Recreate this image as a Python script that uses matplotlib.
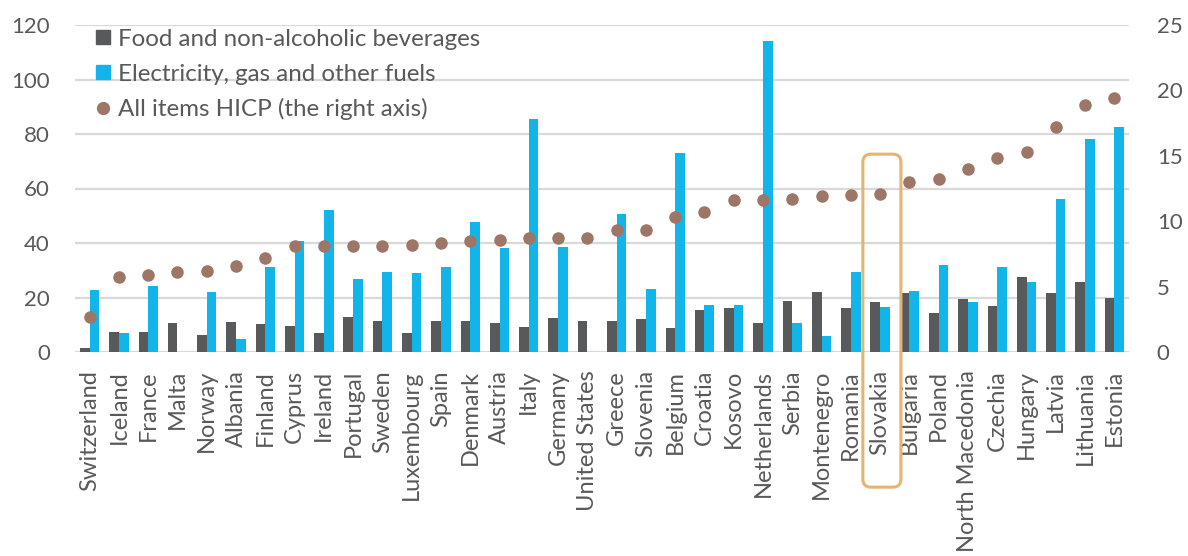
import matplotlib.pyplot as plt
from matplotlib.lines import Line2D
from matplotlib.patches import FancyBboxPatch
from matplotlib.transforms import IdentityTransform
import numpy as np

countries = ["Switzerland", "Iceland", "France", "Malta", "Norway", "Albania", "Finland",
             "Cyprus", "Ireland", "Portugal", "Sweden", "Luxembourg", "Spain", "Denmark",
             "Austria", "Italy", "Germany", "United States", "Greece", "Slovenia", "Belgium",
             "Croatia", "Kosovo", "Netherlands", "Serbia", "Montenegro", "Romania", "Slovakia",
             "Bulgaria", "Poland", "North Macedonia", "Czechia", "Hungary", "Latvia",
             "Lithuania", "Estonia"]
food = [1.5, 7.3, 7.3, 10.8, 6.4, 11.1, 10.4, 9.7, 6.9, 13.0, 11.5, 7.0, 11.5, 11.4,
        10.6, 9.3, 12.5, 11.4, 11.5, 12.1, 8.9, 15.5, 16.3, 10.6, 18.8, 21.9, 16.3, 18.5,
        21.5, 14.4, 19.4, 17.0, 27.6, 21.7, 25.8, 19.7]
energy = [22.9, 6.9, 24.1, 0.0, 22.0, 4.9, 31.2, 40.9, 52.1, 26.8, 29.2, 29.0, 31.3, 47.8,
          38.2, 85.5, 38.5, 0.0, 50.8, 23.1, 73.2, 17.4, 17.1, 114.1, 10.5, 5.7, 29.5, 16.4,
          22.4, 31.9, 18.5, 31.1, 25.8, 56.3, 78.3, 82.4]
hicp = [2.7, 5.7, 5.9, 6.1, 6.2, 6.6, 7.2, 8.1, 8.1, 8.1, 8.1, 8.2, 8.3, 8.5, 8.6, 8.7,
        8.7, 8.7, 9.3, 9.3, 10.3, 10.7, 11.6, 11.6, 11.7, 11.9, 12.0, 12.1, 13.0, 13.2,
        14.0, 14.8, 15.3, 17.2, 18.9, 19.4]
highlight = "Slovakia"

dark = "#58595B"
blue = "#12B5EA"
brown = "#9E7668"
text_grey = "#595959"
grid_grey = "#D9D9D9"

plt.rcParams['font.family'] = ['Lato', 'DejaVu Sans']

fig = plt.figure(figsize=(11.88, 5.56), dpi=100)
ax = fig.add_axes([75 / 1188, 1 - 352 / 556, 1054 / 1188, 327 / 556])

x = np.arange(len(countries))
w = 0.33
ax.bar(x - w / 2, food, w, color=dark)
ax.bar(x + w / 2, energy, w, color=blue)

ax.set_xlim(-0.5, len(countries) - 0.5)
ax.set_ylim(0, 120)
ax.set_yticks(range(0, 121, 20))
ax.yaxis.grid(True, color=grid_grey, lw=1.6)
ax.set_axisbelow(True)
ax.set_xticks(x)
ax.set_xticklabels(countries, rotation=90)
ax.tick_params(axis='y', length=0, pad=18, labelsize=16, labelcolor=text_grey)
ax.tick_params(axis='x', length=0, pad=13, labelsize=17, labelcolor=text_grey)
for s in ax.spines.values():
    s.set_visible(False)

ax2 = ax.twinx()
ax2.scatter(x, hicp, s=64, color=brown, zorder=3)
ax2.set_ylim(0, 25)
ax2.set_yticks(range(0, 26, 5))
ax2.tick_params(axis='y', length=0, pad=20, labelsize=16, labelcolor=text_grey)
for s in ax2.spines.values():
    s.set_visible(False)

handles = [Line2D([], [], ls='none', marker='s', ms=10.5, color=dark),
           Line2D([], [], ls='none', marker='s', ms=10.5, color=blue),
           Line2D([], [], ls='none', marker='o', ms=8.5, color=brown)]
labels = ["Food and non-alcoholic beverages", "Electricity, gas and other fuels",
          "All items HICP (the right axis)"]
leg = ax2.legend(handles, labels, loc='upper left', bbox_to_anchor=(0.009, 1.018),
                 frameon=False, fontsize=17.4, handlelength=0.75, handletextpad=0.22,
                 labelspacing=0.57, borderaxespad=0)
for t in leg.get_texts():
    t.set_color(text_grey)

# rounded frame around the highlighted country, running down over its label
i = countries.index(highlight)
x0, y_top = ax.transData.transform((i - 0.59, 72.6))
x1, _ = ax.transData.transform((i + 0.71, 0))
y_bot = y_top - 333
frame = FancyBboxPatch((x0, y_bot), x1 - x0, y_top - y_bot,
                       boxstyle="round,pad=0,rounding_size=8",
                       fill=False, ec="#E4B473", lw=2.2,
                       transform=IdentityTransform())
fig.add_artist(frame)

plt.savefig("out.png", dpi=100)
